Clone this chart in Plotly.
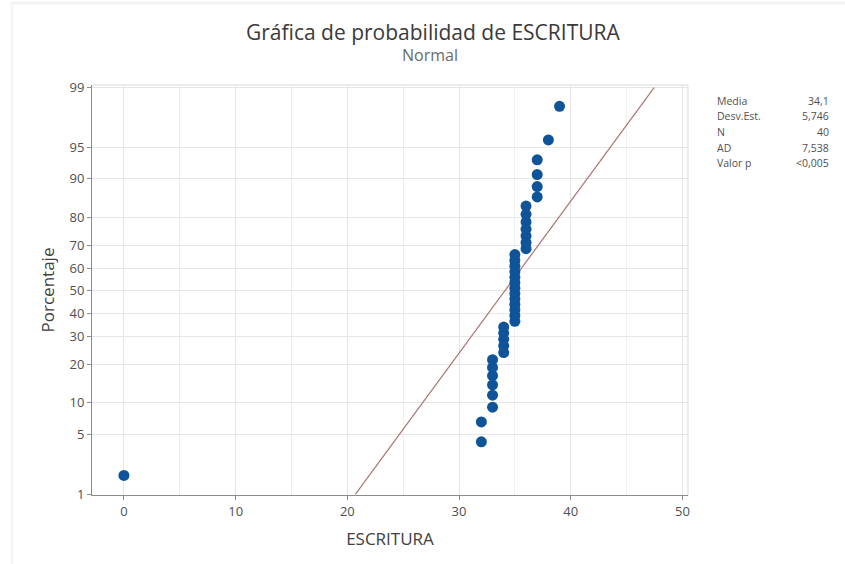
import math
import plotly.graph_objects as go

# ESCRITURA scores (n = 40), sorted
escritura = [0,
             32, 32,
             33, 33, 33, 33, 33, 33,
             34, 34, 34, 34, 34,
             35, 35, 35, 35, 35, 35, 35, 35, 35, 35, 35, 35, 35,
             36, 36, 36, 36, 36, 36, 36,
             37, 37, 37, 37,
             38,
             39]

pct_ticks = [1, 5, 10, 20, 30, 40, 50, 60, 70, 80, 90, 95, 99]
x_ticks = [0, 10, 20, 30, 40, 50]

stat_labels = ["Media", "Desv.Est.", "N", "AD", "Valor p"]
stat_values = ["34,1", "5,746", "40", "7,538", "<0,005"]


def norm_ppf(p):
    """Inverse standard normal CDF by bisection on erf."""
    lo, hi = -10.0, 10.0
    for _ in range(100):
        mid = 0.5 * (lo + hi)
        if 0.5 * (1 + math.erf(mid / math.sqrt(2))) < p:
            lo = mid
        else:
            hi = mid
    return 0.5 * (lo + hi)


n = len(escritura)
mean = sum(escritura) / n
sd = math.sqrt(sum((v - mean) ** 2 for v in escritura) / (n - 1))

# median ranks -> normal scores
zscores = [norm_ppf((i + 1 - 0.3) / (n + 0.4)) for i in range(n)]

z_lo, z_hi = norm_ppf(0.01), norm_ppf(0.99)
fit_x = [mean + sd * z_lo, mean + sd * z_hi]
fit_z = [z_lo, z_hi]

W, H = 845, 564
ML, MR, MT, MB = 92, 157, 85, 69
PW, PH = W - ML - MR, H - MT - MB

fig = go.Figure()

fig.add_trace(go.Scatter(
    x=fit_x, y=fit_z, mode="lines",
    line=dict(color="#a87572", width=1.2),
    hoverinfo="skip", showlegend=False,
))

fig.add_trace(go.Scatter(
    x=escritura, y=zscores, mode="markers",
    marker=dict(color="#0f5499", size=11, line=dict(width=0)),
    showlegend=False,
))

font_family = "Open Sans, Noto Sans, sans-serif"

fig.update_layout(
    width=W, height=H,
    margin=dict(l=ML, r=MR, t=MT, b=MB),
    paper_bgcolor="white", plot_bgcolor="white",
    font=dict(family=font_family, color="#444444", size=12),
    showlegend=False,
)

# title and subtitle
fig.add_annotation(text="Gráfica de probabilidad de ESCRITURA", xref="paper", yref="paper",
                   x=(433 - ML) / PW, y=1 + (MT - 32) / PH, xanchor="center", yanchor="middle",
                   showarrow=False, font=dict(size=21, color="#3a3a3a"))
fig.add_annotation(text="Normal", xref="paper", yref="paper",
                   x=(430 - ML) / PW, y=1 + (MT - 55) / PH, xanchor="center", yanchor="middle",
                   showarrow=False, font=dict(size=16, color="#6a6a6a"))

fig.update_xaxes(
    range=[-2.86, 50.5],
    tickvals=x_ticks, ticktext=[str(v) for v in x_ticks],
    showgrid=True, gridcolor="#e6e6e6", gridwidth=1,
    minor=dict(dtick=5, tick0=0, showgrid=True, gridcolor="#efefef", gridwidth=1),
    showline=True, linecolor="#8c8c8c", linewidth=1, mirror=False,
    ticks="outside", ticklen=4, tickcolor="#8c8c8c",
    zeroline=False,
    title=dict(text="ESCRITURA", font=dict(size=17, color="#404040"), standoff=14),
    tickfont=dict(size=13, color="#505050"),
)

fig.update_yaxes(
    range=[z_lo - 0.01, z_hi + 0.03],
    tickvals=[norm_ppf(p / 100) for p in pct_ticks],
    ticktext=[str(p) for p in pct_ticks],
    showgrid=True, gridcolor="#e6e6e6", gridwidth=1,
    showline=True, linecolor="#8c8c8c", linewidth=1,
    ticks="outside", ticklen=4, tickcolor="#8c8c8c",
    zeroline=False,
    title=dict(text="Porcentaje", font=dict(size=17, color="#404040"), standoff=10),
    tickfont=dict(size=13, color="#505050"),
)

# light frame on the top and right of the plot area
fig.add_shape(type="line", xref="paper", yref="paper", x0=0, x1=1, y0=1, y1=1,
              line=dict(color="#d9d9d9", width=1))
fig.add_shape(type="line", xref="paper", yref="paper", x0=1, x1=1, y0=0, y1=1,
              line=dict(color="#d9d9d9", width=1))

# faint outer border of the graph window
fig.add_shape(type="line", xref="paper", yref="paper",
              x0=(10 - ML) / PW, x1=(W - ML) / PW, y0=1 + (MT - 3) / PH, y1=1 + (MT - 3) / PH,
              line=dict(color="#f3f3f3", width=3))
fig.add_shape(type="line", xref="paper", yref="paper",
              x0=(12 - ML) / PW, x1=(12 - ML) / PW, y0=-(MB) / PH, y1=1 + (MT - 3) / PH,
              line=dict(color="#f5f5f5", width=3))

# statistics table
row_y0 = 101
for k, (lab, val) in enumerate(zip(stat_labels, stat_values)):
    ypx = row_y0 + k * 15.5
    yp = 1 - (ypx - MT) / PH
    fig.add_annotation(text=lab, xref="paper", yref="paper",
                       x=(715 - ML) / PW, y=yp,
                       xanchor="left", yanchor="middle", showarrow=False,
                       font=dict(size=10.5, color="#505050"))
    fig.add_annotation(text=val, xref="paper", yref="paper",
                       x=(831 - ML) / PW, y=yp,
                       xanchor="right", yanchor="middle", showarrow=False,
                       font=dict(size=10.5, color="#505050"))

fig.write_html("out.html")
